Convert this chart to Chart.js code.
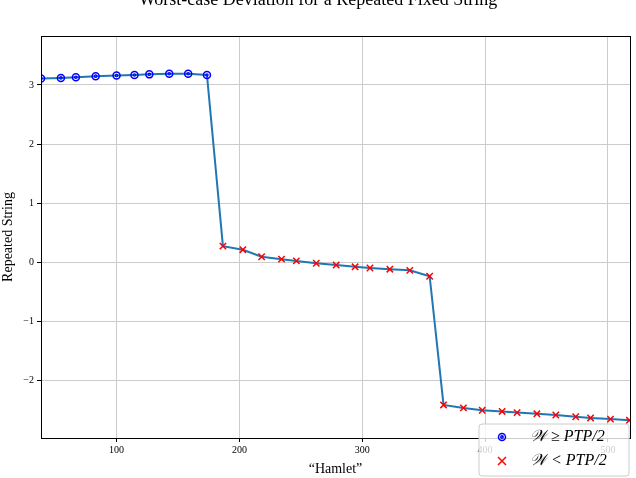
<!DOCTYPE html>
<html>
<head>
<meta charset="utf-8">
<script src="https://cdn.jsdelivr.net/npm/chart.js@4"></script>
<style>
  html, body { margin: 0; padding: 0; background: #fff; }
  #wrap { width: 636px; height: 478px; }
</style>
</head>
<body>
<div id="wrap"><canvas id="c"></canvas></div>
<script>
// Data
const highX = [38.5, 54.7, 66.9, 83, 100, 114.6, 126.7, 142.9, 158.3, 173.6];
const highY = [3.11, 3.12, 3.13, 3.15, 3.16, 3.17, 3.18, 3.19, 3.19, 3.17];
const lowX = [186.6, 202.8, 218.1, 234.3, 246.4, 262.6, 278.8, 294.2, 306.3, 322.5, 338.7, 354.9,
  366.2, 382.4, 397.7, 413.9, 426.1, 442.2, 457.6, 473.8, 485.9, 502.1, 517.5];
const lowY = [0.27, 0.21, 0.09, 0.05, 0.02, -0.02, -0.05, -0.08, -0.10, -0.12, -0.14, -0.24,
  -2.42, -2.47, -2.51, -2.53, -2.55, -2.57, -2.59, -2.62, -2.64, -2.66, -2.68];
const xTicks = [100, 200, 300, 400, 500];
const yTicks = [-2, -1, 0, 1, 2, 3];

const SERIF = '"Liberation Serif", "DejaVu Serif", serif';
const toPts = (xs, ys) => xs.map((x, i) => ({ x, y: ys[i] }));

// Title (cut at top), axes frame and legend box drawn on the canvas
const extras = {
  id: 'extras',
  afterDraw(chart) {
    const ctx = chart.ctx;
    const a = chart.chartArea;
    ctx.save();
    ctx.strokeStyle = '#000';
    ctx.lineWidth = 1;
    ctx.strokeRect(a.left + 0.5, a.top + 0.5, a.right - a.left, a.bottom - a.top);

    ctx.fillStyle = '#000';
    ctx.font = '18px ' + SERIF;
    ctx.textAlign = 'center';
    ctx.textBaseline = 'alphabetic';
    ctx.fillText('Worst-case Deviation for a Repeated Fixed String', 318, 5);

    // legend
    const bx = 479, by = 424, bw = 150, bh = 52;
    ctx.fillStyle = 'rgba(255,255,255,0.8)';
    ctx.strokeStyle = '#ccc';
    ctx.beginPath();
    ctx.roundRect(bx, by, bw, bh, 3);
    ctx.fill();
    ctx.stroke();
    ctx.strokeStyle = 'blue';
    ctx.lineWidth = 1.5;
    ctx.beginPath(); ctx.arc(502, 437, 3.5, 0, Math.PI * 2); ctx.stroke();
    ctx.beginPath(); ctx.arc(502, 437, 1.2, 0, Math.PI * 2); ctx.stroke();
    ctx.strokeStyle = 'red';
    ctx.beginPath();
    ctx.moveTo(498, 457); ctx.lineTo(506, 465);
    ctx.moveTo(506, 457); ctx.lineTo(498, 465);
    ctx.stroke();
    ctx.fillStyle = '#000';
    ctx.textAlign = 'left';
    ctx.textBaseline = 'middle';
    ctx.font = 'italic 16px ' + SERIF;
    ctx.fillText('𝒲 ≥ PTP/2', 530, 437);
    ctx.fillText('𝒲 < PTP/2', 530, 461);
    ctx.restore();
  }
};

new Chart(document.getElementById('c'), {
  type: 'scatter',
  data: {
    datasets: [
      {
        label: 'high',
        data: toPts(highX, highY),
        pointStyle: 'circle',
        pointRadius: 3.5,
        borderColor: 'blue',
        backgroundColor: 'rgba(0,0,0,0)',
        borderWidth: 1.5,
        order: 0
      },
      {
        label: 'high-inner',
        data: toPts(highX, highY),
        pointStyle: 'circle',
        pointRadius: 1.2,
        borderColor: 'blue',
        backgroundColor: 'rgba(0,0,0,0)',
        borderWidth: 1.2,
        order: 0
      },
      {
        label: 'low',
        data: toPts(lowX, lowY),
        pointStyle: 'crossRot',
        pointRadius: 4.5,
        borderColor: 'red',
        borderWidth: 1.5,
        order: 0
      },
      {
        label: 'line',
        type: 'line',
        data: toPts(highX.concat(lowX), highY.concat(lowY)),
        borderColor: '#1f77b4',
        borderWidth: 2,
        pointRadius: 0,
        fill: false,
        order: 1
      }
    ]
  },
  options: {
    responsive: true,
    maintainAspectRatio: false,
    animation: false,
    layout: { padding: { top: 36, right: 2, left: 0, bottom: 0 } },
    plugins: { legend: { display: false }, tooltip: { enabled: false } },
    scales: {
      x: {
        type: 'linear', min: 38.5, max: 518,
        afterBuildTicks: s => { s.ticks = xTicks.map(v => ({ value: v })); },
        afterFit: s => { s.height = 40; },
        ticks: { color: '#000', font: { family: SERIF, size: 10 }, padding: 2 },
        grid: { color: '#cccccc', tickLength: 4, tickColor: '#000' },
        border: { color: '#000' },
        title: { display: true, text: '“Hamlet”', color: '#000', font: { family: SERIF, size: 14 }, padding: 0 }
      },
      y: {
        min: -2.98, max: 3.83,
        afterBuildTicks: s => { s.ticks = yTicks.map(v => ({ value: v })); },
        afterFit: s => { s.width = 41; },
        ticks: { color: '#000', font: { family: SERIF, size: 10 }, padding: 3,
          callback: v => String(v).replace('-', '−') },
        grid: { color: '#cccccc', tickLength: 4, tickColor: '#000' },
        border: { color: '#000' },
        title: { display: true, text: 'Repeated String', color: '#000', font: { family: SERIF, size: 14 }, padding: 0 }
      }
    }
  },
  plugins: [extras]
});
</script>
</body>
</html>
